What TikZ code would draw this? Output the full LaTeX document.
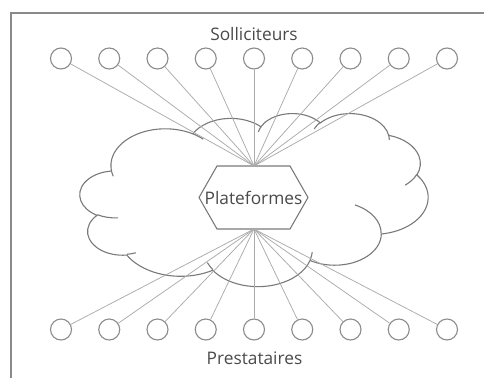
\documentclass[tikz,border=0pt]{standalone}
\usepackage{fontspec}
\setmainfont{Open Sans}
\definecolor{circgray}{HTML}{8C8C8C}
\definecolor{linegray}{HTML}{ABABAB}
\definecolor{shapegray}{HTML}{7A7A7A}
\definecolor{textgray}{HTML}{4A4A4A}
\definecolor{framegray}{HTML}{8A8A8A}
\newcommand\va[4]{%
  \pgfmathsetmacro\tmpa{atan2(#1*sin(#3),#2*cos(#3))}%
  \pgfmathsetmacro\tmpb{atan2(#1*sin(#3+#4),#2*cos(#3+#4))}%
  \pgfmathsetmacro\tmpd{mod(\tmpb-(\tmpa)+720,360)}%
  \xdef\tA{\tmpa}\xdef\tD{\tmpd}}
\tikzset{
  circ/.style={circle, draw=circgray, line width=1.1pt, minimum size=21pt, inner sep=0pt, fill=white},
  link/.style={draw=linegray, line width=0.75pt},
  lbl/.style={font=\fontsize{17.3}{20}\selectfont, text=textgray, anchor=base, inner sep=0pt},
  outl/.style={draw=shapegray, line width=1.1pt},
  varc/.style n args={4}{insert path={\pgfextra{\va{#1}{#2}{#3}{#4}} arc[x radius=#1, y radius=#2, start angle=\tA, delta angle=\tD]}},
}
\begin{document}
\begin{tikzpicture}[x=1pt,y=-1pt]
\useasboundingbox (0,0) rectangle (484,378);
% frame
\coordinate (fa) at (11,378);
\coordinate (fb) at (11,13);
\coordinate (fc) at (484,13);
\draw[framegray, line width=1.3pt] (fa) -- (fb) -- (fc);
% cloud
\begin{scope}[shift={(80,113)}, xscale=0.8056, yscale=0.4005]
\draw[outl, fill=white] (39.00,143.70)
  [varc={67.53}{91.90}{-190.48748}{123.78053}]
  [varc={53.33}{72.67}{-144.10238}{89.94523}]
  [varc={43.65}{59.45}{-145.80792}{99.72302}]
  [varc={48.57}{65.95}{-130.98607}{117.24173}]
  [varc={53.33}{72.73}{-78.70888}{109.02692}]
  [varc={67.75}{92.20}{-46.26725}{130.269}]
  [varc={57.85}{78.67}{0.62502}{114.03333}]
  [varc={67.52}{92.15}{22.4516}{115.17255}]
  [varc={77.20}{105.43}{66.24263}{75.71102}]
  [varc={43.60}{59.18}{-274.94208}{146.73557}]
  [varc={43.45}{59.45}{-246.8285}{152.51885}]
  -- cycle;
\draw[outl] (46.93,261.77) [varc={43.45}{59.45}{86.742}{26.4295}];
\draw[outl] (69.28,348.99) [varc={43.60}{59.18}{73.61047}{11.44747}];
\draw[outl] (164.78,390.90) [varc={67.52}{92.15}{137.62415}{14.0811}];
\draw[outl] (288.27,347.51) [varc={67.52}{92.15}{6.45327}{15.99835}];
\draw[outl] (341.29,229.54) [varc={57.85}{78.67}{-70.29235}{70.91737}];
\draw[outl] (417.98,153.54) [varc={53.33}{72.73}{30.31803}{27.7515}];
\draw[outl] (383.24,54.26) [varc={48.57}{65.95}{-13.74433}{14.8589}];
\draw[outl] (290.78,39.52) [varc={48.57}{65.95}{-149.18145}{18.19537}];
\draw[outl] (221.41,47.20) [varc={43.65}{59.45}{-163.49427}{17.68635}];
\draw[outl] (140.00,51.92) [varc={67.53}{91.90}{-66.70695}{12.31935}];
\draw[outl] (41.27,157.89) [varc={67.53}{91.90}{157.65435}{11.85817}];
\end{scope}
% hexagon
\coordinate (hT) at (254,166);
\coordinate (hB) at (254,229);
\draw[outl, fill=white] (199,197.5) -- (217,166) -- (290,166) -- (308,197.5) -- (290,229) -- (217,229) -- cycle;
\node[lbl] (plat) at (253.5,204) {Plateformes};
% circles
\foreach \i in {1,...,9} {
  \pgfmathsetmacro\cx{61+(\i-1)*48.25}
  \node[circ] (s\i) at (\cx,58.5) {};
  \node[circ] (p\i) at (\cx,329.5) {};
}
\foreach \i in {1,...,9} {
  \draw[link] (s\i) -- (hT);
  \draw[link] (p\i) -- (hB);
}
\node[lbl] (sol) at (254,40) {Solliciteurs};
\node[lbl] (pre) at (254.5,364) {Prestataires};
\end{tikzpicture}
\end{document}
